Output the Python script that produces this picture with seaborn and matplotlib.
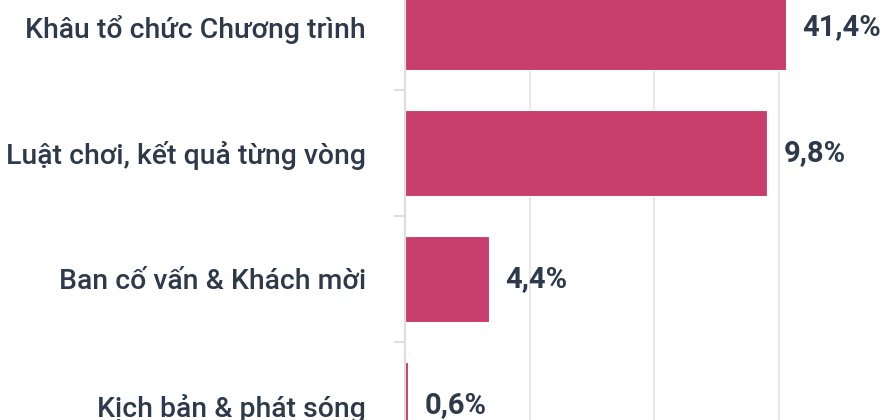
import numpy as np
import pandas as pd
import matplotlib
matplotlib.use('Agg')
import matplotlib.pyplot as plt
import seaborn as sns

# --- data ---
categories = [
    'Khâu tổ chức Chương trình',
    'Luật chơi, kết quả từng vòng',
    'Ban cố vấn & Khách mời',
    'Kịch bản & phát sóng',
]
# bar lengths as drawn (grid step = 10)
bar_lengths = [30.6, 29.05, 6.72, 0.27]
value_labels = ['41,4%', '9,8%', '4,4%', '0,6%']

BAR_COLOR = '#C73D6B'
TEXT_COLOR = '#2E3A4B'

sns.set_theme(style='white')
plt.rcParams['font.family'] = ['Roboto', 'DejaVu Sans']

df = pd.DataFrame({'category': categories, 'length': bar_lengths})

fig = plt.figure(figsize=(8.84, 4.2), dpi=100)
ax = fig.add_axes([405 / 884, 0, (884 - 405) / 884, 1])

sns.barplot(data=df, y='category', x='length', orient='h', color=BAR_COLOR,
            saturation=1, width=0.683, edgecolor='white', linewidth=0.8,
            ax=ax, zorder=3)

ax.set_xlim(0, 479 / 12.45)
ax.set_ylim(3.119, -0.214)
ax.set_xlabel('')
ax.set_ylabel('')

# gridlines
ax.set_xticks([10, 20, 30])
ax.set_xticklabels([])
ax.tick_params(axis='x', length=0)
ax.grid(axis='x', color='#E8E8E8', linewidth=1.5, zorder=0)

# category labels + boundary ticks
ax.set_yticks(range(len(categories)))
ax.set_yticklabels(categories, fontsize=20.4, color=TEXT_COLOR, fontweight='medium')
ax.tick_params(axis='y', which='major', length=0, pad=28)
ax.set_yticks([0.5, 1.5, 2.5], minor=True)
ax.tick_params(axis='y', which='minor', length=8, width=1.2, color='#D8D8D8', left=True)

for s in ['top', 'right', 'bottom']:
    ax.spines[s].set_visible(False)
ax.spines['left'].set_color('#DDDDDD')
ax.spines['left'].set_linewidth(1.5)
ax.spines['left'].set_zorder(4)

# value labels
for i, (v, lab) in enumerate(zip(bar_lengths, value_labels)):
    ax.annotate(lab, xy=(v, i), xytext=(12, 0), textcoords='offset points',
                va='center', ha='left', fontsize=21, fontweight='bold',
                color=TEXT_COLOR)

fig.savefig('out.png', dpi=100)
